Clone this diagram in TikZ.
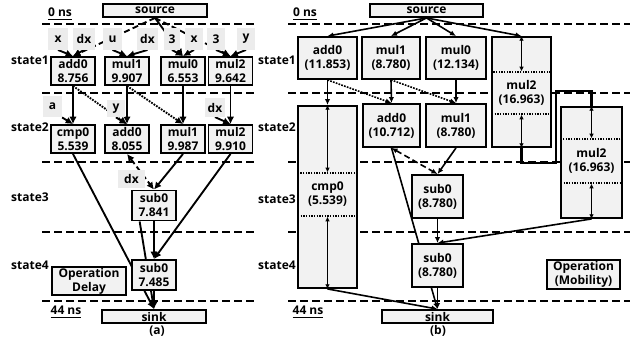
\documentclass[tikz,border=0pt]{standalone}
\usepackage{fontspec}
\setmainfont{Open Sans}
\usetikzlibrary{arrows.meta}
\pgfdeclarelayer{bg}
\pgfsetlayers{bg,main}
\definecolor{boxfill}{RGB}{242,242,242}
\definecolor{lblfill}{RGB}{236,236,236}
\begin{document}
\begin{tikzpicture}[x=0.75pt,y=-0.75pt,
  font=\bfseries\fontsize{9}{10.5}\selectfont,
  box/.style={draw, fill=boxfill, line width=1.4pt, inner sep=0pt, align=center},
  inbox/.style={draw, dash pattern=on 1pt off 1pt, line width=1pt, inner sep=0pt, align=center},
  lbl/.style={fill=lblfill, inner sep=0pt, minimum height=16pt},
  sline/.style={dash pattern=on 6pt off 3pt, line width=1.6pt},
  ea/.style={line width=1.4pt, -{Latex[length=5.5pt,width=5.5pt]}},
  eb/.style={line width=1.2pt, -{Latex[length=4.5pt,width=4pt]}},
  dots/.style={dash pattern=on 1.3pt off 0.9pt},
  dsh/.style={dash pattern=on 4.5pt off 2.5pt},
  dbl/.style={line width=1pt, {Latex[length=3.5pt,width=3.5pt]}-{Latex[length=3.5pt,width=3.5pt]}},
  tlabel/.style={inner sep=0pt},
]
\useasboundingbox (0,0) rectangle (639,340);

% ---------------- (a) nodes ----------------
\node[box, minimum width=78pt, minimum height=9.75pt] (asrc) at (155,10.5) {source};
\node[box, minimum width=78pt, minimum height=9.75pt] (asink) at (154,316.5) {sink};
\node[box, minimum width=33pt, minimum height=21pt] (a1add) at (73,71) {add0\\8.756};
\node[box, minimum width=33pt, minimum height=21pt] (a1mul1) at (127,71) {mul1\\9.907};
\node[box, minimum width=33pt, minimum height=21pt] (a1mul0) at (183,71) {mul0\\6.553};
\node[box, minimum width=33pt, minimum height=21pt] (a1mul2) at (230.5,71) {mul2\\9.642};
\node[box, minimum width=33pt, minimum height=21pt] (a2cmp) at (73,139) {cmp0\\5.539};
\node[box, minimum width=33pt, minimum height=21pt] (a2add) at (127,139) {add0\\8.055};
\node[box, minimum width=33pt, minimum height=21pt] (a2mul1) at (183,139) {mul1\\9.987};
\node[box, minimum width=33pt, minimum height=21pt] (a2mul2) at (230.5,139) {mul2\\9.910};
\node[box, minimum width=33pt, minimum height=22.5pt] (a3sub) at (154,205.5) {sub0\\7.841};
\node[box, minimum width=33pt, minimum height=22.5pt] (a4sub) at (154,275) {sub0\\7.485};
\node[box, minimum width=55.5pt, minimum height=21pt] (adelay) at (89,281) {Operation\\Delay};

% input labels (a)
\node[lbl, minimum width=15pt] (lx1) at (58,39) {x};
\node[lbl, minimum width=16.5pt] (ldx1) at (84,39) {dx};
\node[lbl, minimum width=14pt] (lu) at (112.5,39) {u};
\node[lbl, minimum width=16pt] (ldx2) at (147.5,39) {dx};
\node[lbl, minimum width=12pt] (l31) at (172,39) {3};
\node[lbl, minimum width=13.5pt] (lx2) at (194,39) {x};
\node[lbl, minimum width=13.5pt] (l32) at (216,39) {3};
\node[lbl, minimum width=13.5pt] (ly1) at (246,39) {y};
\node[lbl, minimum width=14pt] (la) at (52.5,106.5) {a};
\node[lbl, minimum width=13.5pt, minimum height=13pt] (ly2) at (116,108.5) {y};
\node[lbl, minimum width=15pt, minimum height=14pt] (ldx3) at (215,107.5) {dx};
\node[lbl, minimum width=20pt, minimum height=13.5pt] (ldx4) at (131.5,179) {dx};

% text labels (a)
\node[tlabel] (a0ns) at (60,14) {\underline{0 ns}};
\node[tlabel] (a44ns) at (66,312) {\underline{44 ns}};
\node[tlabel] (as1) at (30,60) {state1};
\node[tlabel] (as2) at (30,127) {state2};
\node[tlabel] (as3) at (30,197) {state3};
\node[tlabel] (as4) at (30,265) {state4};
\node[tlabel] (acap) at (157,331) {(a)};

% ---------------- (b) nodes ----------------
\node[box, minimum width=84.75pt, minimum height=9.75pt] (bsrc) at (426.5,10.5) {source};
\node[box, minimum width=83.25pt, minimum height=9.75pt] (bsink) at (437.5,316.5) {sink};
\node[box, minimum width=44.25pt, minimum height=31.5pt] (b1add) at (327.5,58) {add0\\(11.853)};
\node[box, minimum width=43.5pt, minimum height=31.5pt] (b1mul1) at (391,58) {mul1\\(8.780)};
\node[box, minimum width=45pt, minimum height=31.5pt] (b1mul0) at (456,58) {mul0\\(12.134)};
\node[box, minimum width=44.25pt, minimum height=82.5pt] (b1mul2) at (521.5,92) {};
\node[inbox, minimum width=44.25pt, minimum height=31.5pt] (b1m2in) at (521.5,93) {mul2\\(16.963)};
\node[box, minimum width=42.75pt, minimum height=32.25pt] (b2add) at (391.5,125.5) {add0\\(10.712)};
\node[box, minimum width=45pt, minimum height=32.25pt] (b2mul1) at (456,125.5) {mul1\\(8.780)};
\node[box, minimum width=44.25pt, minimum height=136.5pt] (b2cmp) at (327.5,197) {};
\node[inbox, minimum width=44.25pt, minimum height=32.25pt] (b2cmpin) at (327.5,194.5) {cmp0\\(5.539)};
\node[box, minimum width=45.75pt, minimum height=83.25pt] (b2mul2) at (591.5,162.5) {};
\node[inbox, minimum width=45.75pt, minimum height=33pt] (b2m2in) at (591.5,161) {mul2\\(16.963)};
\node[box, minimum width=38.25pt, minimum height=32.25pt] (b3sub) at (437.5,196.5) {sub0\\(8.780)};
\node[box, minimum width=38.25pt, minimum height=32.25pt] (b4sub) at (437.5,265.5) {sub0\\(8.780)};
\node[box, minimum width=54.75pt, minimum height=21.75pt] (bmob) at (583.5,274.5) {Operation\\(Mobility)};

\node[tlabel] (b0ns) at (305,14) {\underline{0 ns}};
\node[tlabel] (b44ns) at (308,312) {\underline{44 ns}};
\node[tlabel] (bs1) at (277,60) {state1};
\node[tlabel] (bs2) at (277,127) {state2};
\node[tlabel] (bs3) at (277,199) {state3};
\node[tlabel] (bs4) at (277,265) {state4};
\node[tlabel] (bcap) at (438,331) {(b)};

% double arrows inside mobility boxes
\draw[dbl] (b1mul2.north) -- (b1m2in.north);
\draw[dbl] (b1m2in.south) -- (b1mul2.south);
\draw[dbl] (b2cmp.north) -- (b2cmpin.north);
\draw[dbl] (b2cmpin.south) -- (b2cmp.south);
\draw[dbl] (b2mul2.north) -- (b2m2in.north);
\draw[dbl] (b2m2in.south) -- (b2mul2.south);

\coordinate (k1) at (521.5,163);
\coordinate (k2) at (556,163);
\coordinate (k3) at (556,91);

\begin{pgfonlayer}{bg}
% state lines
\foreach \yy in {24,93,162,232,301} {
  \draw[sline] (42,\yy) -- (257,\yy);
  \draw[sline] (288,\yy) -- (630,\yy);
}
% (a) edges
\draw[ea, dsh] (asrc.south) -- (a1add.north);
\draw[ea] (asrc.south) -- (a1mul0.north);
\draw[ea, dsh] (asrc.south) -- (a1mul2.north);
\draw[ea] (lx1.south) -- (a1add.north);
\draw[ea] (ldx1.south) -- (a1add.north);
\draw[ea] (lu.south) -- (a1mul1.north);
\draw[ea] (ldx2.south) -- (a1mul1.north);
\draw[ea] (l31.south) -- (a1mul0.north);
\draw[ea] (lx2.south) -- (a1mul0.north);
\draw[ea] (l32.south) -- (a1mul2.north);
\draw[ea] (ly1.south) -- (a1mul2.north);
\draw[ea] (a1add.south) -- (a2cmp.north);
\draw[ea, dots] (a1add.south) -- (a2add.north);
\draw[ea] (a1mul1.south) -- (a2add.north);
\draw[ea, dots] (a1mul1.south) -- (a2mul1.north);
\draw[ea] (a1mul0.south) -- (a2mul1.north);
\draw[ea] (a1mul2.south) -- (a2mul2.north);
\draw[ea] (la.south east) -- (a2cmp.north);
\draw[ea] (ly2.south) -- (a2add.north);
\draw[ea] (ldx3.south) -- (a2mul2.north);
\draw[line width=1.4pt, dsh, {Latex[length=5.5pt,width=5.5pt]}-{Latex[length=5.5pt,width=5.5pt]}] (a2add.south) -- (a3sub.north);
\draw[ea] (a2mul1.south) -- (a3sub.north);
\draw[ea] (a2mul2.south) -- (a4sub.north);
\draw[ea] (a2cmp.south) -- (asink.north);
\draw[ea] (a3sub.south) -- (a4sub.north);
\draw[ea] (a3sub.228) -- (asink.north);
\draw[ea] (a4sub.south) -- (asink.north);

% (b) edges
\draw[eb] (bsrc.south) -- (b1add.north);
\draw[eb] (bsrc.south) -- (b1mul1.north);
\draw[eb] (bsrc.south) -- (b1mul0.north);
\draw[eb] (bsrc.south) -- (b1mul2.north);
\draw[eb] (b1add.south) -- (b2cmp.north);
\draw[eb] (b1mul1.south) -- (b2add.north);
\draw[eb] (b1mul0.south) -- (b2mul1.north);
\draw[eb, dots] (b1add.south) -- (b2add.north);
\draw[eb, dots] (b1mul1.south) -- (b2mul1.north);
\draw[line width=1.2pt, dsh, {Latex[length=4.5pt,width=4pt]}-{Latex[length=4.5pt,width=4pt]}] (b2add.south) -- (b3sub.north);
\draw[eb] (b2mul1.south) -- (b3sub.north);
\draw[eb] (b2add.south) -- (bsink.north);
\draw[eb] (b3sub.south) -- (b4sub.north);
\draw[eb] (b2mul2.south) -- (b4sub.north);
\draw[eb] (b2cmp.south) -- (bsink.north);
\draw[eb] (b4sub.south) -- (bsink.north);
\draw[line width=2pt] (b1mul2.south) -- (k1) -- (k2) -- (k3) -- (b2mul2.north |- k3) -- (b2mul2.north);
\end{pgfonlayer}
\end{tikzpicture}
\end{document}
